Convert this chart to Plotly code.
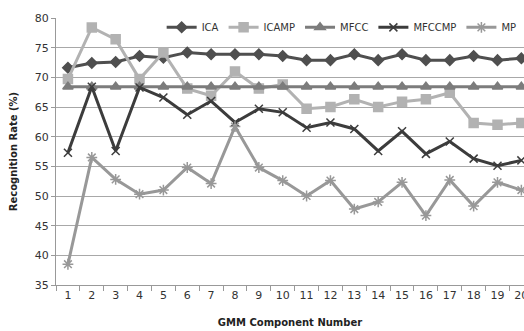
import plotly.graph_objects as go

components = [str(i) for i in range(1, 21)]
ica = [71.6, 72.4, 72.6, 73.6, 73.3, 74.2, 73.9, 73.9, 73.9, 73.6, 72.9, 72.9, 73.9, 72.9, 73.9, 72.9, 72.9, 73.6, 72.9, 73.2]
icamp = [69.7, 78.4, 76.4, 69.7, 74.2, 68.1, 66.9, 71.0, 68.1, 68.8, 64.7, 65.0, 66.3, 65.0, 65.9, 66.3, 67.4, 62.3, 62.0, 62.3]
mfcc = [68.4] * 20
mfccmp = [57.3, 68.4, 57.6, 68.3, 66.6, 63.7, 66.0, 62.4, 64.7, 64.1, 61.5, 62.4, 61.3, 57.6, 60.9, 57.1, 59.2, 56.3, 55.1, 56.0]
mp = [38.5, 56.5, 52.8, 50.3, 51.0, 54.8, 52.1, 61.7, 54.8, 52.6, 50.0, 52.6, 47.8, 49.0, 52.3, 46.7, 52.7, 48.3, 52.3, 51.0]
y_ticks = [35, 40, 45, 50, 55, 60, 65, 70, 75, 80]

series = [
    ("ICA", ica, "#4f4f4f", "diamond", 8),
    ("ICAMP", icamp, "#b2b2b2", "square", 9),
    ("MFCC", mfcc, "#7c7c7c", "triangle-up", 9),
    ("MFCCMP", mfccmp, "#3c3c3c", "x-thin-open", 8),
    ("MP", mp, "#989898", "asterisk-open", 9),
]

fig = go.Figure()
for name, vals, color, sym, size in series:
    fig.add_trace(go.Scatter(
        x=components, y=vals, name=name, mode="lines+markers",
        line=dict(color=color, width=3),
        marker=dict(symbol=sym, size=size, color=color,
                    line=dict(color=color, width=1.5)),
        cliponaxis=False,
    ))

font = "DejaVu Sans"
fig.update_layout(
    width=524, height=331,
    margin=dict(l=56, r=0, t=18, b=46, autoexpand=False),
    paper_bgcolor="white", plot_bgcolor="white",
    font=dict(family=font, size=11, color="#333333"),
    showlegend=True,
    legend=dict(orientation="h", x=0.995, xanchor="right", y=0.965, yanchor="middle",
                bgcolor="rgba(0,0,0,0)", font=dict(size=10, color="#333333"),
                itemwidth=30, tracegroupgap=0),
    xaxis=dict(
        type="category", range=[-0.5, 19.11], tickson="boundaries",
        ticks="outside", ticklen=5, tickcolor="#999999", automargin=False,
        showline=True, linecolor="#999999", linewidth=1,
        showgrid=False, tickfont=dict(size=11, color="#333333"),
        title=dict(text="<b>GMM Component Number</b>", font=dict(size=10, color="#222222"), standoff=17),
    ),
    yaxis=dict(
        range=[35, 80], tickvals=y_ticks, automargin=False,
        ticks="outside", ticklen=4, tickcolor="#999999",
        showline=True, linecolor="#999999", linewidth=1,
        showgrid=True, gridcolor="#a8a8a8", gridwidth=1,
        zeroline=False, tickfont=dict(size=11, color="#333333"),
        title=dict(text="<b>Recognition Rate (%)</b>", font=dict(size=10, color="#222222"), standoff=15),
    ),
)

fig.write_html(
    "out.html",
    config={"displayModeBar": False},
    post_script="document.body.style.margin='0';document.body.style.overflow='hidden';",
)
